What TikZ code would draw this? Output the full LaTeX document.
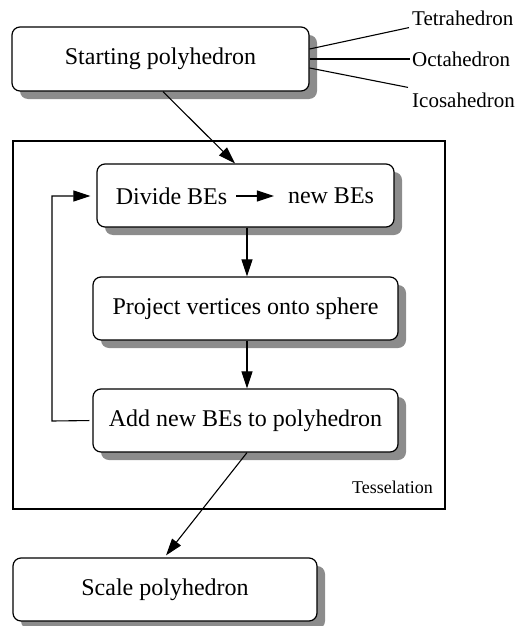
\documentclass[tikz,border=0pt]{standalone}
\usepackage{fontspec}
\setmainfont{Liberation Serif}
\usetikzlibrary{arrows.meta,shadows}

\tikzset{
  stepbox/.style={draw, line width=1.2pt, rounded corners=8pt, fill=white,
    inner sep=0pt, font=\fontsize{24}{28}\selectfont,
    drop shadow={shadow xshift=8pt, shadow yshift=-8pt, fill=black!45, opacity=1}},
  shapelabel/.style={inner sep=2pt, anchor=west, font=\fontsize{21}{25}\selectfont},
  flow/.style={line width=1.1pt, -{Triangle[length=17pt,width=11pt]}},
  plain/.style={line width=1.1pt},
  frame/.style={draw, line width=2.8pt}
}

\begin{document}
\begin{tikzpicture}[x=1pt,y=-1pt]
\useasboundingbox (0,0) rectangle (523,626);

% tesselation loop frame
\node[frame, minimum width=432pt, minimum height=368pt, inner sep=0pt] (tess) at (229,325) {};
\node[anchor=east, inner sep=0pt, font=\fontsize{18}{22}\selectfont] (tesslabel) at (433,487) {Tesselation};

% process steps
\node[stepbox, minimum width=297pt, minimum height=64pt] (start) at (160.5,59) {Starting polyhedron};
\node[stepbox, minimum width=297pt, minimum height=63pt] (divide) at (245.5,195.5) {};
\node[inner sep=0pt, font=\fontsize{24}{28}\selectfont] (divA) at (171.5,196) {Divide BEs};
\node[inner sep=0pt, font=\fontsize{24}{28}\selectfont] (divB) at (331,196) {new BEs};
\node[stepbox, minimum width=305pt, minimum height=63pt] (project) at (245.5,308.5) {Project vertices onto sphere};
\node[stepbox, minimum width=305pt, minimum height=63pt] (add) at (245.5,420.5) {Add new BEs to polyhedron};
\node[stepbox, minimum width=304pt, minimum height=63pt] (scale) at (165,589.5) {Scale polyhedron};

% starting shapes
\node[shapelabel] (tet) at (410,18) {Tetrahedron};
\node[shapelabel] (oct) at (410,59) {Octahedron};
\node[shapelabel] (ico) at (410,100) {Icosahedron};

\draw[plain] ([yshift=10pt]start.east) -- ([xshift=-1pt]tet.south west);
\draw[plain] (start.east) -- (oct.west);
\draw[plain] ([yshift=-9pt]start.east) -- ([xshift=-2pt,yshift=3pt]ico.north west);

% flow between steps
\draw[flow] ([xshift=2.5pt]start.south) -- ([xshift=-10.5pt]divide.north);
\draw[flow, shorten <=9pt, shorten >=14pt] (divA.east) -- (divB.west);
\draw[flow] ([xshift=1.5pt]divide.south) -- ([xshift=1.5pt]project.north);
\draw[flow] ([xshift=1.5pt]project.south) -- ([xshift=1.5pt]add.north);
\coordinate (loopA) at (52,421);
\coordinate (loopB) at (52,196);
\draw[flow, shorten <=3pt, shorten >=6pt] (add.west) -- (loopA) -- (loopB) -- (divide.west |- loopB);
\draw[flow] ([xshift=1.5pt]add.south) -- ([xshift=1pt,yshift=2pt]scale.north);
\end{tikzpicture}
\end{document}
